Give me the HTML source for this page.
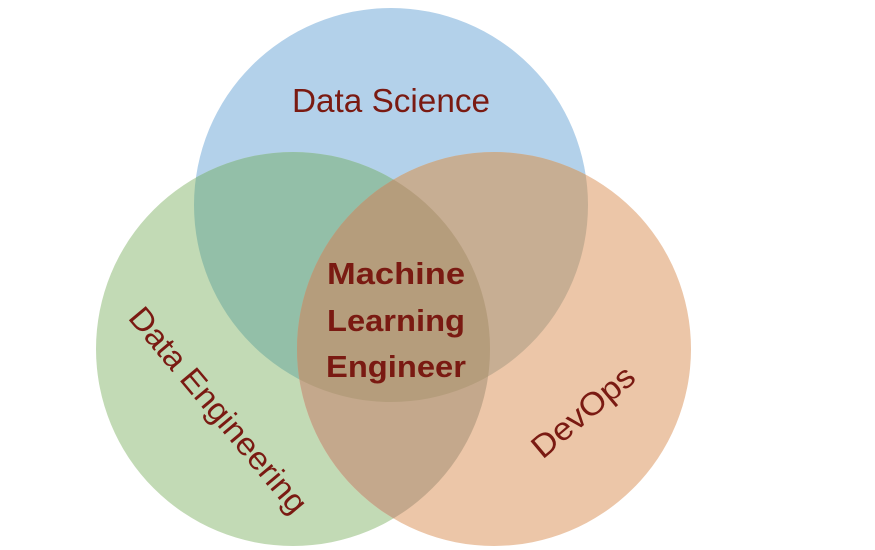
<!DOCTYPE html>
<html><head><style>html,body{margin:0;padding:0;background:#fff;width:875px;height:550px;overflow:hidden}</style></head>
<body>
<svg width="875" height="550" xmlns="http://www.w3.org/2000/svg">
<defs>
<clipPath id="cb"><circle cx="391" cy="205" r="197"/></clipPath>
<clipPath id="cg"><circle cx="293" cy="349" r="197"/></clipPath>
</defs>
<circle cx="391" cy="205" r="197" fill="#b3d1ea"/>
<circle cx="293" cy="349" r="197" fill="#c2dab5"/>
<circle cx="494" cy="349" r="197" fill="#ecc6a8"/>
<g clip-path="url(#cb)"><circle cx="293" cy="349" r="197" fill="#93bfa8"/><circle cx="494" cy="349" r="197" fill="#c7ae93"/></g>
<g clip-path="url(#cg)"><circle cx="494" cy="349" r="197" fill="#c4a88c"/></g>
<g clip-path="url(#cb)"><g clip-path="url(#cg)"><circle cx="494" cy="349" r="197" fill="#b59d7c"/></g></g>
<g font-family="Liberation Sans, sans-serif" fill="#7a1a12">
<text x="391" y="112" font-size="33" text-anchor="middle" textLength="198" lengthAdjust="spacingAndGlyphs">Data Science</text>
<g font-weight="bold" font-size="31" text-anchor="middle">
<text x="396" y="284" textLength="138" lengthAdjust="spacingAndGlyphs">Machine</text>
<text x="396" y="331" textLength="138" lengthAdjust="spacingAndGlyphs">Learning</text>
<text x="396" y="377" textLength="140" lengthAdjust="spacingAndGlyphs">Engineer</text>
</g>
<text x="0" y="0" font-size="32" text-anchor="middle" transform="translate(210,417) rotate(50)" textLength="258" lengthAdjust="spacingAndGlyphs">Data Engineering</text>
<text x="0" y="0" font-size="32" text-anchor="middle" transform="translate(590,420) rotate(-40)" textLength="124" lengthAdjust="spacingAndGlyphs">DevOps</text>
</g>
</svg>
</body></html>
